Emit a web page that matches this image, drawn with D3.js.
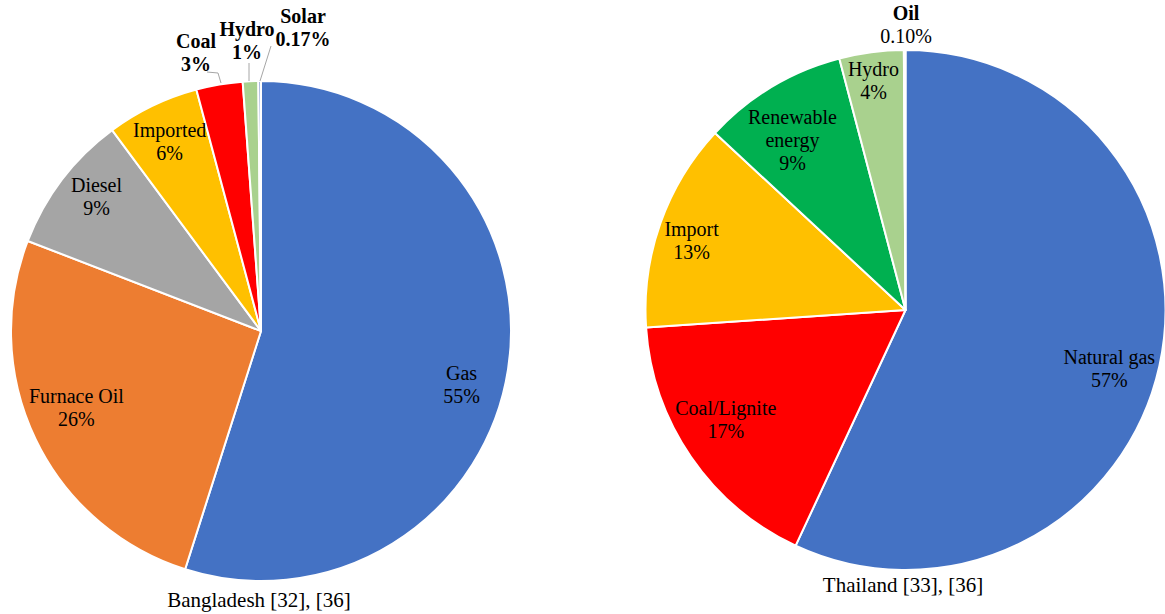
<!DOCTYPE html>
<html>
<head>
<meta charset="utf-8">
<script src="https://cdn.jsdelivr.net/npm/d3@7/dist/d3.min.js"></script>
<style>
  html, body { margin: 0; padding: 0; background: #fff; }
  svg { display: block; }
</style>
</head>
<body>
<svg id="chart" width="1165" height="614"></svg>
<script>
// Bangladesh generation mix (%)
const bdCategories = ["Gas", "Furnace Oil", "Diesel", "Imported", "Coal", "Hydro", "Solar"];
const bdValues = [55, 26, 9, 6, 3, 1, 0.17];
const bdLabels = ["55%", "26%", "9%", "6%", "3%", "1%", "0.17%"];

// Thailand generation mix (%)
const thCategories = ["Natural gas", "Coal/Lignite", "Import", "Renewable energy", "Hydro", "Oil"];
const thValues = [57, 17, 13, 9, 4, 0.10];
const thLabels = ["57%", "17%", "13%", "9%", "4%", "0.10%"];

const bdColors = ["#4472C4", "#ED7D31", "#A5A5A5", "#FFC000", "#FF0000", "#A9D18E", "#7E92CC"];
const thColors = ["#4472C4", "#FF0000", "#FFC000", "#00B050", "#A9D18E", "#ED7D31"];

const SERIF = "'Liberation Serif', 'Times New Roman', Times, 'DejaVu Serif', serif";
const svg = d3.select("#chart");
const FONT = 20;
const LINE = 23;

// Per-slice label placement: inside labels use [angle shift (deg), radius factor];
// outside labels use an absolute anchor and an optional leader line.
const bdLayout = [
  { inside: [6, 0.83], lines: ["Gas"] },
  { inside: [3, 0.80], lines: ["Furnace Oil"] },
  { inside: [2, 0.85], lines: ["Diesel"] },
  { inside: [0, 0.84], lines: ["Imported"] },
  { at: [196, 48], bold: true, lines: ["Coal"], leader: [[207, 72], [218, 73], [221, 83]] },
  { at: [247, 36], bold: true, lines: ["Hydro"], leader: [[249, 63], [249, 81]] },
  { at: [303, 23], bold: true, lines: ["Solar"], leader: [[271, 46], [260, 81]] }
];
const thLayout = [
  { inside: [3.4, 0.815], lines: ["Natural gas"] },
  { inside: [3, 0.81], lines: ["Coal/Lignite"] },
  { inside: [-1.5, 0.865], lines: ["Import"] },
  { inside: [-2.7, 0.785], lines: ["Renewable", "energy"] },
  { inside: [-0.4, 0.89], lines: ["Hydro"] },
  { at: [906, 20], bold: true, valueNormal: true, lines: ["Oil"] }
];

function addText(x, y, t, opts) {
  return svg.append("text")
    .attr("x", x).attr("y", y)
    .attr("text-anchor", "middle")
    .attr("font-family", SERIF)
    .attr("font-size", opts.size || FONT)
    .attr("font-weight", opts.bold ? "bold" : "normal")
    .attr("dominant-baseline", opts.central ? "central" : null)
    .attr("fill", "#000")
    .text(t);
}

function drawPie(cfg) {
  const g = svg.append("g").attr("transform", `translate(${cfg.cx},${cfg.cy})`);
  const data = cfg.values.map((v, i) => ({ name: cfg.categories[i], value: v, label: cfg.labels[i], i }));
  const pie = d3.pie().value(d => d.value).sort(null);
  const arcs = pie(data);
  const arc = d3.arc().innerRadius(0).outerRadius(cfg.r);

  g.selectAll("path.slice")
    .data(arcs)
    .join("path")
    .attr("class", "slice")
    .attr("d", arc)
    .attr("fill", d => cfg.colors[d.index])
    .attr("stroke", "#fff")
    .attr("stroke-width", 2)
    .attr("stroke-linejoin", "round");

  arcs.forEach((a, k) => {
    const lay = cfg.layout[k];
    const lines = lay.lines.concat([a.data.label]);
    if (lay.inside) {
      const mid = (a.startAngle + a.endAngle) / 2 + lay.inside[0] * Math.PI / 180;
      const rr = cfg.r * lay.inside[1];
      const x = cfg.cx + rr * Math.sin(mid);
      const y = cfg.cy - rr * Math.cos(mid);
      const top = y - (lines.length - 1) * LINE / 2;
      lines.forEach((t, j) => addText(x, top + j * LINE, t, { central: true }));
    } else {
      const [x, y] = lay.at;
      if (lay.leader) {
        svg.append("polyline")
          .attr("points", lay.leader.map(p => p.join(",")).join(" "))
          .attr("fill", "none")
          .attr("stroke", "#A6A6A6")
          .attr("stroke-width", 1);
      }
      lines.forEach((t, j) => {
        const isValue = j === lines.length - 1;
        addText(x, y + j * LINE, t, { bold: lay.bold && !(isValue && lay.valueNormal) });
      });
    }
  });

  addText(cfg.captionX, cfg.captionY, cfg.caption, { size: 21 });
}

drawPie({
  cx: 261, cy: 331, r: 250,
  categories: bdCategories, values: bdValues, labels: bdLabels,
  colors: bdColors, layout: bdLayout,
  caption: "Bangladesh [32], [36]", captionX: 259, captionY: 607
});

drawPie({
  cx: 905.5, cy: 310, r: 260,
  categories: thCategories, values: thValues, labels: thLabels,
  colors: thColors, layout: thLayout,
  caption: "Thailand [33], [36]", captionX: 903, captionY: 592
});
</script>
</body>
</html>
